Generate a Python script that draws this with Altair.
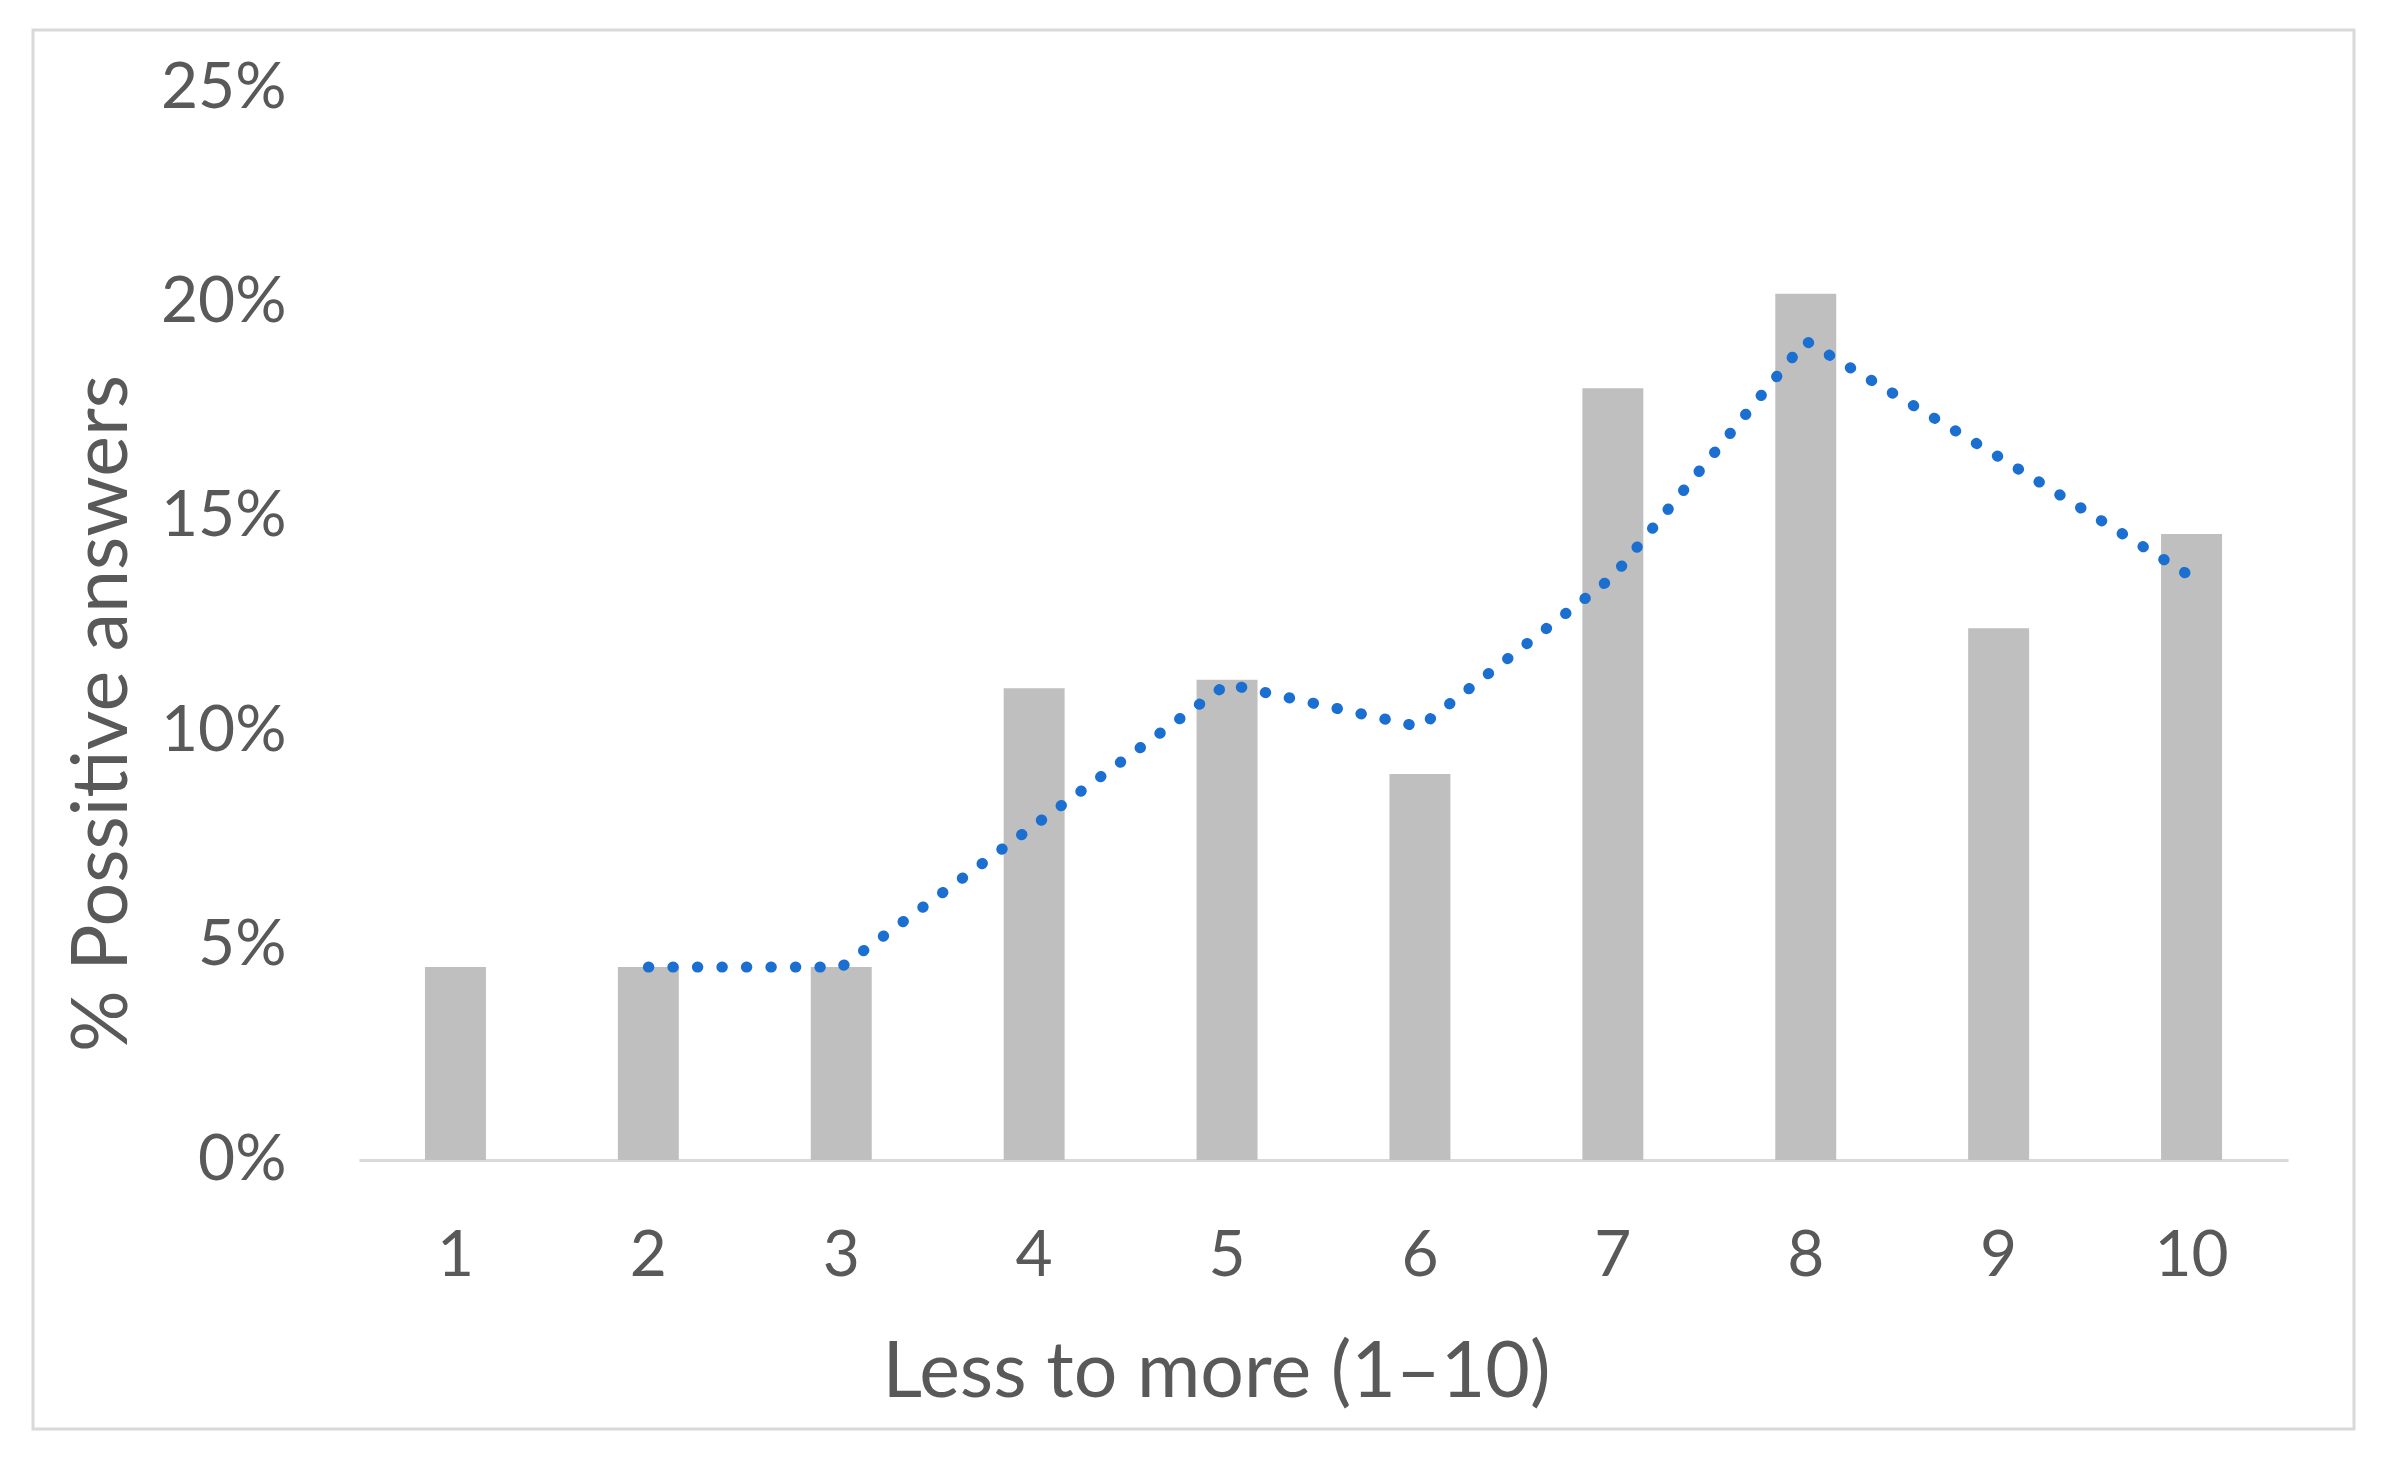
import altair as alt
import pandas as pd

categories = ["1", "2", "3", "4", "5", "6", "7", "8", "9", "10"]
pct_values = [4.5, 4.5, 4.5, 11.0, 11.2, 9.0, 18.0, 20.2, 12.4, 14.6]
trend_values = [None, 4.5, 4.5, 7.8, 11.1, 10.1, 13.6, 19.1, 16.4, 13.6]
y_ticks = [0, 5, 10, 15, 20, 25]

df = pd.DataFrame({"cat": categories, "pct": pct_values, "trend": trend_values})

FONT = "Lato"
TXT = "#595959"
W, H = 1929, 1072
LEFT, TOP = 359, 88

x_enc = alt.X(
    "cat:N",
    sort=categories,
    scale=alt.Scale(paddingInner=0.684, paddingOuter=0.342),
    axis=alt.Axis(
        title="Less to more (1–10)",
        labelAngle=0,
        ticks=False,
        tickSize=0,
        labelPadding=96,
        labelBaseline="middle",
        labelFontSize=64,
        titleFontSize=77,
        titleFontWeight="normal",
        titleX=857,
        titleY=213,
        titleAnchor="start",
        titleAlign="center",
        titleBaseline="middle",
        domain=True,
        domainColor="#d9d9d9",
        domainWidth=3,
        grid=False,
    ),
)

y_scale = alt.Scale(domain=[0, 25], nice=False)

bars = alt.Chart(df).mark_bar(color="#bfbfbf").encode(
    x=x_enc,
    y=alt.Y(
        "pct:Q",
        scale=y_scale,
        axis=alt.Axis(
            title="% Possitive answers",
            values=y_ticks,
            labelExpr="datum.value + '%'",
            domain=False,
            ticks=False,
            tickSize=0,
            grid=False,
            labelPadding=73,
            labelFontSize=64,
            labelBaseline="middle",
            titleFontSize=77,
            titleFontWeight="normal",
            titleX=-256,
            titleY=625,
            titleAngle=-90,
            titleAlign="center",
            titleBaseline="middle",
        ),
    ),
)

line = (
    alt.Chart(df)
    .transform_filter("isValid(datum.trend)")
    .mark_line(color="#1a6fd1", strokeWidth=11, strokeDash=[0.5, 24], strokeCap="round")
    .encode(x=alt.X("cat:N", sort=categories), y=alt.Y("trend:Q", scale=y_scale))
)

frame = alt.Chart(pd.DataFrame({"a": [0]})).mark_rect(
    fill="transparent", stroke="#d9d9d9", strokeWidth=3
).encode(
    x=alt.value(33 - LEFT),
    x2=alt.value(2354 - LEFT),
    y=alt.value(30 - TOP),
    y2=alt.value(1429 - TOP),
)

chart = (
    alt.layer(frame, bars, line)
    .properties(
        width=W,
        height=H,
        autosize=alt.AutoSizeParams(type="none"),
        padding={"left": LEFT - 8, "top": TOP - 8, "right": 80, "bottom": 280},
        background="white",
    )
    .configure_view(stroke=None)
    .configure_axis(
        labelFont=FONT,
        titleFont=FONT,
        labelColor=TXT,
        titleColor=TXT,
    )
)

chart.save("out.html", embed_options={"renderer": "svg", "actions": False})
